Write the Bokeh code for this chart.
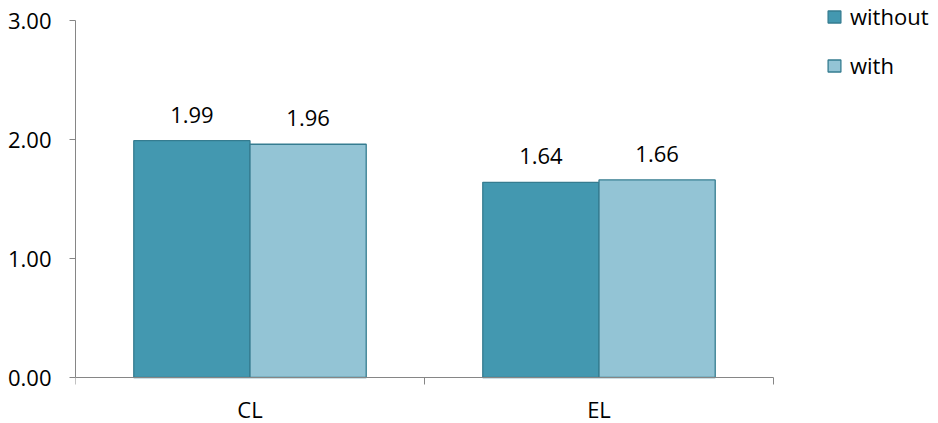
from bokeh.plotting import figure
from bokeh.models import ColumnDataSource, FixedTicker, Range1d, Legend, LegendItem, NumeralTickFormatter
from bokeh.transform import dodge
from bokeh.core.properties import value
from bokeh.embed import file_html
from bokeh.resources import INLINE

categories = ["CL", "EL"]
without_vals = [1.99, 1.64]
with_vals = [1.96, 1.66]
y_ticks = [0, 1, 2, 3]

FONT = "Open Sans"
C_WITHOUT = "#4398B0"
C_WITH = "#93C4D5"
C_EDGE = "#357C90"
AXIS = "#868686"

W, H = 938, 423
LEFT, BOTTOM_PX, TOP_PX, RIGHT_PX = 75, 377, 20, 773   # frame anchors on the canvas
n = len(categories)
ppu_y = (BOTTOM_PX - TOP_PX) / 3.0
ppu_x = (RIGHT_PX - LEFT) / n

xs = [i + 0.5 for i in range(n)]
src = ColumnDataSource(dict(
    x=xs,
    cat=categories,
    zero=[0.0] * n,
    without=without_vals,
    with_=with_vals,
    lw=[f"{v:.2f}" for v in without_vals],
    lh=[f"{v:.2f}" for v in with_vals],
))

p = figure(width=W, height=H, output_backend="svg", toolbar_location=None,
           x_range=Range1d(0, (W - LEFT) / ppu_x),
           y_range=Range1d(-(H - BOTTOM_PX) / ppu_y, 3 + TOP_PX / ppu_y),
           min_border_left=LEFT, min_border_right=0, min_border_top=0, min_border_bottom=0)
p.outline_line_color = None
p.xgrid.visible = False
p.ygrid.visible = False
p.xaxis.visible = False

w = 0.333
r1 = p.vbar(x=dodge("x", -0.1665, range=p.x_range), top="without", width=w, source=src,
            fill_color=C_WITHOUT, line_color=C_EDGE, line_width=1.3)
r2 = p.vbar(x=dodge("x", 0.1665, range=p.x_range), top="with_", width=w, source=src,
            fill_color=C_WITH, line_color=C_EDGE, line_width=1.3)

p.text(x=dodge("x", -0.1665, range=p.x_range), y="without", text="lw", source=src,
       text_font=value(FONT), text_font_size="22px", text_align="center",
       text_baseline="alphabetic", y_offset=-26, text_color="black")
p.text(x=dodge("x", 0.1665, range=p.x_range), y="with_", text="lh", source=src,
       text_font=value(FONT), text_font_size="22px", text_align="center",
       text_baseline="alphabetic", y_offset=-26, text_color="black")

# category axis drawn in the frame: line, boundary ticks, labels
p.segment(x0=0, y0=0, x1=n, y1=0, line_color=AXIS, line_width=1)
bounds = list(range(n + 1))
p.segment(x0=bounds, y0=[0] * (n + 1), x1=bounds, y1=[-7 / ppu_y] * (n + 1),
          line_color=AXIS, line_width=1)
p.text(x="x", y="zero", text="cat", source=src, y_offset=31,
       text_font=value(FONT), text_font_size="22px", text_align="center",
       text_baseline="alphabetic", text_color="black")

# y axis
ya = p.yaxis[0]
ya.ticker = FixedTicker(ticks=y_ticks)
ya.formatter = NumeralTickFormatter(format="0.00")
ya.bounds = (0, 3)
ya.axis_line_color = AXIS
ya.major_tick_line_color = AXIS
ya.major_tick_in = 0
ya.major_tick_out = 6
ya.minor_tick_line_color = None
ya.major_label_standoff = 18
ya.major_label_text_font = FONT
ya.major_label_text_font_size = "22px"
ya.major_label_text_color = "black"

legend = Legend(items=[LegendItem(label="without", renderers=[r1]),
                       LegendItem(label="with", renderers=[r2])],
                location=(751, 343), orientation="vertical",
                glyph_width=16, glyph_height=15, label_standoff=8, spacing=19,
                padding=0, margin=0, border_line_color=None, background_fill_alpha=0,
                label_text_font=FONT, label_text_font_size="22px", label_text_color="black")
p.add_layout(legend)

open("out.html", "w").write(file_html(p, INLINE))
